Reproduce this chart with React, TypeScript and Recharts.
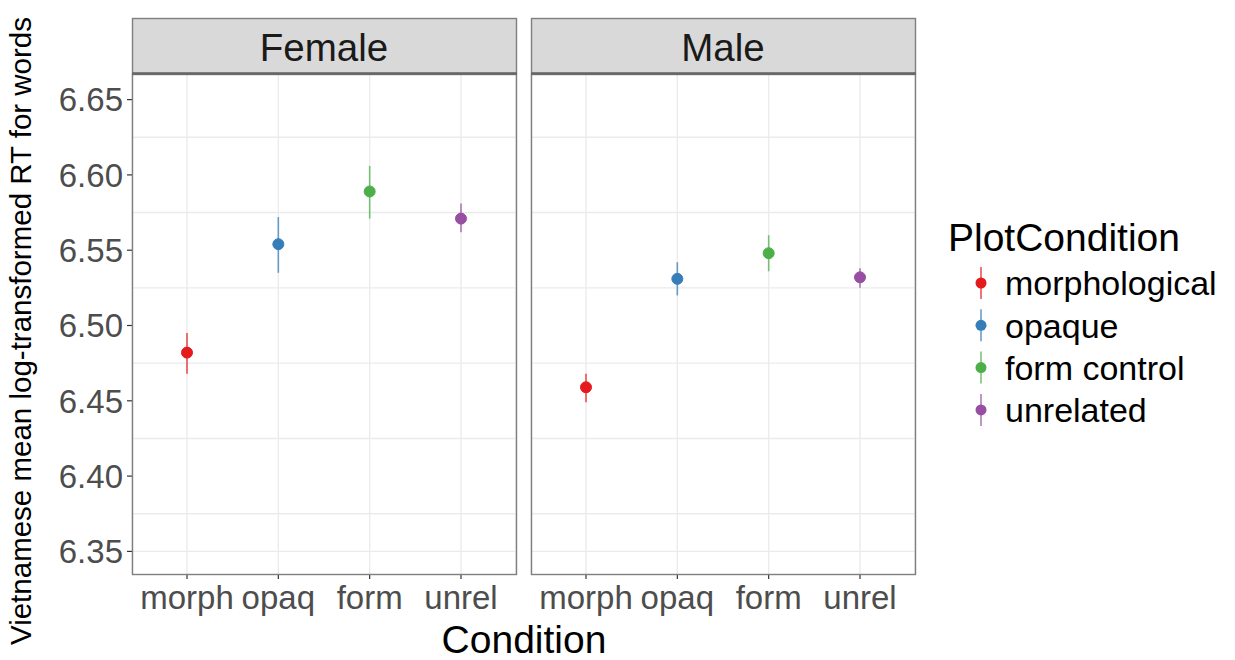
import { LineChart, Line, XAxis, YAxis, CartesianGrid, ErrorBar } from 'recharts';

const conditions = ['morph', 'opaq', 'form', 'unrel'];
const seriesKeys = ['morphological', 'opaque', 'formControl', 'unrelated'];
const legendLabels = ['morphological', 'opaque', 'form control', 'unrelated'];
const colors = ['#E41A1C', '#377EB8', '#4DAF4A', '#984EA3'];

const femaleMean = [6.482, 6.554, 6.589, 6.571];
const femaleLow = [6.468, 6.535, 6.571, 6.562];
const femaleHigh = [6.495, 6.572, 6.606, 6.581];

const maleMean = [6.459, 6.531, 6.548, 6.532];
const maleLow = [6.449, 6.520, 6.536, 6.525];
const maleHigh = [6.468, 6.542, 6.560, 6.538];

const yTicks = [6.35, 6.4, 6.45, 6.5, 6.55, 6.6, 6.65];
const yMinor = [6.375, 6.425, 6.475, 6.525, 6.575, 6.625];
const yDomain = [6.335, 6.667];

const FONT = '"Liberation Sans", Arial, Helvetica, sans-serif';

function buildRows(mean: number[], low: number[], high: number[]) {
  return conditions.map((c, i) => {
    const row: Record<string, unknown> = { cond: c };
    row[seriesKeys[i]] = mean[i];
    row[`${seriesKeys[i]}Err`] = [mean[i] - low[i], high[i] - mean[i]];
    return row;
  });
}

const femaleRows = buildRows(femaleMean, femaleLow, femaleHigh);
const maleRows = buildRows(maleMean, maleLow, maleHigh);

const tickStyle = { fill: '#4D4D4D', fontSize: 33, fontFamily: FONT };

function Panel({ rows, showY, width, left }: { rows: Record<string, unknown>[]; showY: boolean; width: number; left: number }) {
  return (
    <LineChart
      width={width}
      height={660}
      data={rows}
      margin={{ top: 74, right: 4, bottom: 56, left }}
    >
      <CartesianGrid
        stroke="#EBEBEB"
        strokeWidth={1.4}
        horizontalValues={[...yTicks, ...yMinor]}
      />
      <XAxis
        dataKey="cond"
        type="category"
        scale="point"
        height={30}
        padding={{ left: 55, right: 55 }}
        axisLine={false}
        tickSize={5}
        tickMargin={7}
        tickLine={{ stroke: '#333333', strokeWidth: 1.2 }}
        tick={tickStyle}
        interval={0}
      />
      <YAxis
        hide={!showY}
        type="number"
        domain={yDomain}
        ticks={yTicks}
        width={132 - left}
        axisLine={false}
        tickSize={5}
        tickMargin={4}
        tickLine={{ stroke: '#333333', strokeWidth: 1.2 }}
        tick={tickStyle}
        tickFormatter={(v: number) => v.toFixed(2)}
      />
      {seriesKeys.map((k, i) => (
        <Line
          key={k}
          dataKey={k}
          stroke="none"
          isAnimationActive={false}
          dot={{ r: 5.5, fill: colors[i], stroke: colors[i], strokeWidth: 1 }}
          activeDot={false}
        >
          <ErrorBar
            dataKey={`${k}Err`}
            width={0}
            stroke={colors[i]}
            strokeWidth={1.6}
            strokeOpacity={0.75}
            direction="y"
          />
        </Line>
      ))}
    </LineChart>
  );
}

function Overlay() {
  const panels = [
    { x: 132, label: 'Female' },
    { x: 531, label: 'Male' },
  ];
  return (
    <svg
      width={1235}
      height={660}
      style={{ position: 'absolute', left: 0, top: 0, pointerEvents: 'none' }}
      fontFamily={FONT}
    >
      {panels.map((p) => (
        <g key={p.label}>
          <rect x={p.x + 0.5} y={74.5} width={384} height={500} fill="none" stroke="#7F7F7F" strokeWidth={1.4} />
          <rect x={p.x + 0.5} y={18.5} width={384} height={55} fill="#D9D9D9" stroke="#7F7F7F" strokeWidth={1.4} />
          <line x1={p.x} x2={p.x + 385} y1={73.5} y2={73.5} stroke="#666666" strokeWidth={2.4} />
          <text x={p.x + 192} y={61} textAnchor="middle" fontSize={38.5} fill="#1A1A1A">
            {p.label}
          </text>
        </g>
      ))}
      <text x={524} y={653} textAnchor="middle" fontSize={39} fill="#000">
        Condition
      </text>
      <text
        transform="translate(31, 331) rotate(-90)"
        textAnchor="middle"
        fontSize={29.5}
        fill="#000"
      >
        Vietnamese mean log-transformed RT for words
      </text>
      <text x={948} y={251} fontSize={39} fill="#000">
        PlotCondition
      </text>
      {legendLabels.map((lab, i) => {
        const cy = 283 + i * 42.3;
        return (
          <g key={lab}>
            <line x1={981} x2={981} y1={cy - 16} y2={cy + 16} stroke={colors[i]} strokeWidth={1.6} strokeOpacity={0.75} />
            <circle cx={981} cy={cy} r={5.5} fill={colors[i]} />
            <text x={1005} y={cy} dy="0.36em" fontSize={34} fill="#000">
              {lab}
            </text>
          </g>
        );
      })}
    </svg>
  );
}

export default function App() {
  return (
    <div style={{ position: 'absolute', left: 0, top: 0, width: 1235, height: 660, background: '#fff' }}>
      <div style={{ position: 'absolute', left: 0, top: 0 }}>
        <Panel rows={femaleRows} showY width={520} left={0} />
      </div>
      <div style={{ position: 'absolute', left: 520, top: 0 }}>
        <Panel rows={maleRows} showY={false} width={399} left={11} />
      </div>
      <Overlay />
    </div>
  );
}
